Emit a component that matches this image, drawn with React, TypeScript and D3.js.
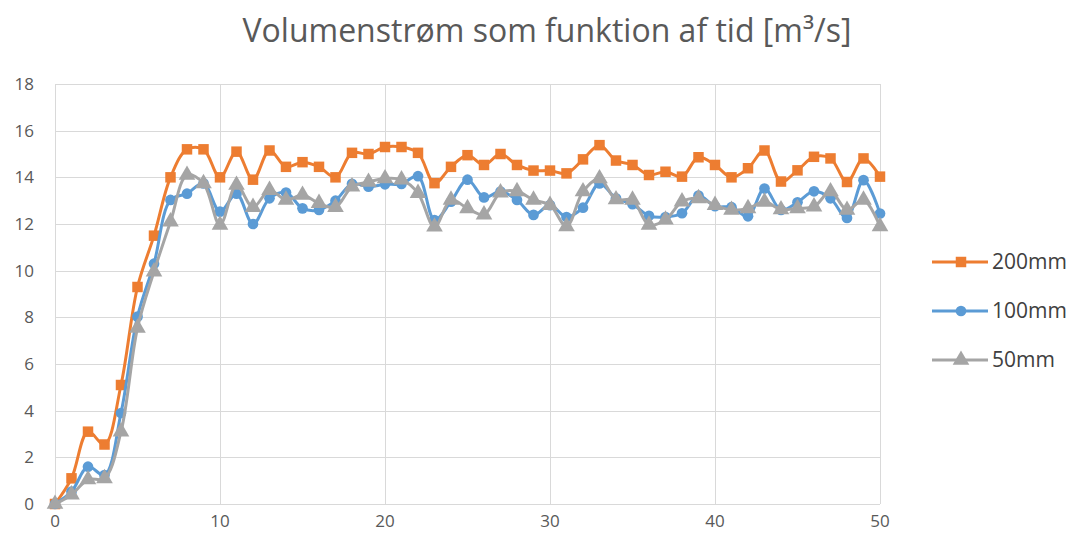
import * as d3 from 'd3';
import { useEffect, useRef } from 'react';

const width = 1077;
const height = 546;

const title = 'Volumenstrøm som funktion af tid [m³/s]';
const seriesNames = ['200mm', '100mm', '50mm'];
const colors = ['#ED7D31', '#5B9BD5', '#A5A5A5'];

const time = d3.range(0, 51);
const yTicks = [0, 2, 4, 6, 8, 10, 12, 14, 16, 18];
const xTicks = [0, 10, 20, 30, 40, 50];

const flow200 = [
  0, 1.1, 3.1, 2.55, 5.1, 9.3, 11.5, 14.0, 15.2, 15.2,
  14.0, 15.1, 13.9, 15.15, 14.45, 14.65, 14.45, 14.0, 15.05, 15.0,
  15.3, 15.3, 15.05, 13.75, 14.45, 14.95, 14.53, 15.0, 14.53, 14.29,
  14.29, 14.17, 14.77, 15.38, 14.72, 14.53, 14.1, 14.24, 14.03, 14.86,
  14.53, 14.0, 14.39, 15.15, 13.82, 14.3, 14.88, 14.81, 13.8, 14.81,
  14.03,
];
const flow100 = [
  0, 0.53, 1.6, 1.24, 3.9, 8.03, 10.3, 13.03, 13.3, 13.74,
  12.53, 13.3, 12.0, 13.1, 13.35, 12.67, 12.6, 13.0, 13.72, 13.6,
  13.7, 13.72, 14.05, 12.17, 12.96, 13.9, 13.14, 13.39, 13.03, 12.39,
  12.81, 12.3, 12.7, 13.74, 13.1, 12.85, 12.35, 12.3, 12.46, 13.22,
  12.76, 12.72, 12.33, 13.52, 12.6, 12.93, 13.4, 13.1, 12.26, 13.88,
  12.45,
];
const flow50 = [
  0, 0.4, 1.05, 1.1, 3.1, 7.55, 9.96, 12.1, 14.1, 13.74,
  11.96, 13.67, 12.72, 13.45, 13.03, 13.24, 12.89, 12.72, 13.6, 13.8,
  13.95, 13.9, 13.32, 11.88, 13.03, 12.67, 12.4, 13.34, 13.4, 13.03,
  12.81, 11.9, 13.39, 13.95, 13.05, 13.03, 11.96, 12.18, 12.96, 13.1,
  12.81, 12.6, 12.67, 12.95, 12.62, 12.67, 12.74, 13.39, 12.6, 13.03,
  11.9,
];
const allSeries = [flow200, flow100, flow50];
const markers = [d3.symbolSquare, d3.symbolCircle, d3.symbolTriangle];
const markerSizes = [110, 90, 120];

const font = 'Open Sans, Liberation Sans, sans-serif';
const textColor = '#595959';

export default function App() {
  const ref = useRef<SVGSVGElement | null>(null);
  const margin = { left: 55, right: 197, top: 84, bottom: 42 };

  useEffect(() => {
    if (!ref.current) return;
    const svg = d3.select(ref.current);
    svg.selectAll('*').remove();

    const x = d3
      .scaleLinear()
      .domain([0, 50])
      .range([margin.left, width - margin.right]);
    const y = d3
      .scaleLinear()
      .domain([0, 18])
      .range([height - margin.bottom, margin.top]);

    svg
      .append('rect')
      .attr('width', width)
      .attr('height', height)
      .attr('fill', 'white');

    // title
    svg
      .append('text')
      .attr('x', 547)
      .attr('y', 42)
      .attr('text-anchor', 'middle')
      .attr('font-family', font)
      .attr('font-size', 32)
      .attr('fill', textColor)
      .text(title);

    // grid
    const grid = svg.append('g').attr('stroke', '#D9D9D9').attr('stroke-width', 1);
    grid
      .selectAll('line.h')
      .data(yTicks)
      .join('line')
      .attr('x1', x(0))
      .attr('x2', x(50))
      .attr('y1', (d) => Math.round(y(d)) + 0.5)
      .attr('y2', (d) => Math.round(y(d)) + 0.5);
    grid
      .selectAll('line.v')
      .data(xTicks)
      .join('line')
      .attr('class', 'v')
      .attr('y1', y(0))
      .attr('y2', y(18))
      .attr('x1', (d) => Math.round(x(d)) + 0.5)
      .attr('x2', (d) => Math.round(x(d)) + 0.5);

    // axes labels
    svg
      .append('g')
      .selectAll('text')
      .data(yTicks)
      .join('text')
      .attr('x', 34)
      .attr('y', (d) => y(d))
      .attr('dy', '0.35em')
      .attr('text-anchor', 'end')
      .attr('font-family', font)
      .attr('font-size', 17)
      .attr('fill', textColor)
      .text((d) => d);

    svg
      .append('g')
      .selectAll('text')
      .data(xTicks)
      .join('text')
      .attr('x', (d) => x(d))
      .attr('y', 527)
      .attr('text-anchor', 'middle')
      .attr('font-family', font)
      .attr('font-size', 17)
      .attr('fill', textColor)
      .text((d) => d);

    // lines (draw back to front: 200, 100, 50)
    const line = d3
      .line<number>()
      .x((_, i) => x(time[i]))
      .y((d) => y(d))
      .curve(d3.curveCatmullRom.alpha(0.5));

    allSeries.forEach((s, k) => {
      const g = svg.append('g');
      g.append('path')
        .attr('d', line(s)!)
        .attr('fill', 'none')
        .attr('stroke', colors[k])
        .attr('stroke-width', 3)
        .attr('stroke-linejoin', 'round');
      const sym = d3.symbol().type(markers[k]).size(markerSizes[k]);
      g.selectAll('path.m')
        .data(s)
        .join('path')
        .attr('class', 'm')
        .attr('d', sym()!)
        .attr('transform', (d, i) => `translate(${x(time[i])},${y(d)})`)
        .attr('fill', colors[k]);
    });

    // legend
    const legend = svg.append('g');
    seriesNames.forEach((name, k) => {
      const ly = 262 + k * 49;
      legend
        .append('line')
        .attr('x1', 932)
        .attr('x2', 988)
        .attr('y1', ly)
        .attr('y2', ly)
        .attr('stroke', colors[k])
        .attr('stroke-width', 3);
      legend
        .append('path')
        .attr('d', d3.symbol().type(markers[k]).size(markerSizes[k])()!)
        .attr('transform', `translate(961,${ly})`)
        .attr('fill', colors[k]);
      legend
        .append('text')
        .attr('x', 992)
        .attr('y', ly)
        .attr('dy', '0.35em')
        .attr('font-family', font)
        .attr('font-size', 21)
        .attr('fill', '#404040')
        .text(name);
    });
  }, []);

  return <svg ref={ref} width={width} height={height} style={{ display: 'block', margin: -8 }} />;
}
